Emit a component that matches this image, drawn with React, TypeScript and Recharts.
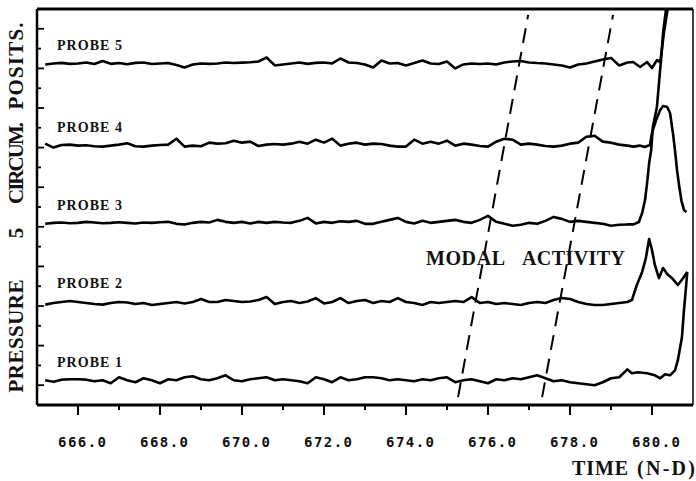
import React from 'react';
import { LineChart, Line, XAxis, YAxis, ReferenceLine } from 'recharts';

// time samples (N-D) for the quiet part of every trace
const TIME = [
  665.2, 665.4, 665.6, 665.8, 666.0, 666.2, 666.4, 666.6, 666.8, 667.0,
  667.2, 667.4, 667.6, 667.8, 668.0, 668.2, 668.4, 668.6, 668.8, 669.0,
  669.2, 669.4, 669.6, 669.8, 670.0, 670.2, 670.4, 670.6, 670.8, 671.0,
  671.2, 671.4, 671.6, 671.8, 672.0, 672.2, 672.4, 672.6, 672.8, 673.0,
  673.2, 673.4, 673.6, 673.8, 674.0, 674.2, 674.4, 674.6, 674.8, 675.0,
  675.2, 675.4, 675.6, 675.8, 676.0, 676.2, 676.4, 676.6, 676.8, 677.0,
  677.2, 677.4, 677.6, 677.8, 678.0, 678.2, 678.4, 678.6, 678.8, 679.0,
  679.2, 679.4,
];

// vertical offset of each probe trace
const OFFSETS = [1.25, 5.15, 9.2, 13.1, 17.25];

// pressure fluctuation around each offset
const PROBE1 = [
  0.0, -0.08, 0.03, 0.05, 0.05, 0.03, -0.05, 0.0, -0.15, 0.15,
  0.0, -0.1, 0.1, 0.0, -0.15, 0.05, 0.0, 0.15, 0.2, 0.05,
  0.0, 0.1, 0.25, 0.0, -0.05, 0.05, 0.1, 0.15, 0.0, 0.05,
  0.0, -0.05, -0.15, 0.15, 0.05, -0.1, 0.15, 0.0, 0.05, 0.15,
  0.15, 0.1, 0.0, 0.05, 0.0, -0.05, 0.05, 0.0, 0.1, 0.15,
  -0.1, 0.0, 0.05, -0.05, -0.15, 0.05, 0.0, 0.1, 0.05, 0.15,
  0.25, 0.1, -0.05, 0.0, -0.1, -0.15, -0.2, -0.25, -0.1, 0.1,
  0.15, 0.55,
];
const PROBE2 = [
  -0.08, 0.0, 0.05, 0.1, 0.05, 0.0, -0.05, -0.08, 0.0, 0.05,
  0.03, -0.05, 0.0, -0.1, -0.05, 0.0, 0.05, -0.02, 0.05, 0.2,
  0.05, 0.05, 0.15, 0.1, 0.05, 0.08, 0.15, 0.3, -0.05, 0.05,
  0.1, 0.0, 0.08, 0.25, -0.02, 0.05, 0.25, 0.0, 0.1, 0.15,
  0.0, 0.1, 0.05, 0.25, 0.05, 0.0, -0.1, 0.05, 0.0, 0.05,
  0.1, 0.05, 0.3, 0.0, 0.05, -0.05, 0.0, -0.05, -0.1, 0.0,
  0.05, 0.0, 0.15, 0.25, 0.2, 0.05, -0.05, -0.1, -0.1, -0.05,
  0.0, 0.05,
];
const PROBE3 = [
  -0.05, 0.0, 0.02, -0.02, 0.0, 0.05, 0.02, -0.02, 0.0, 0.03,
  0.0, -0.03, 0.02, 0.0, 0.03, 0.05, -0.05, -0.08, 0.0, 0.05,
  0.02, 0.15, 0.05, 0.0, 0.05, -0.03, 0.05, 0.0, 0.05, 0.02,
  0.0, 0.1, 0.25, -0.03, 0.05, 0.0, 0.08, 0.05, 0.1, -0.05,
  -0.05, 0.05, 0.15, 0.25, 0.05, -0.03, 0.1, 0.0, 0.05, 0.1,
  0.15, 0.05, 0.0, 0.15, 0.35, 0.05, -0.05, -0.15, -0.1, 0.0,
  -0.05, 0.1, 0.3, 0.2, 0.05, 0.1, 0.05, 0.0, -0.05, -0.15,
  -0.1, -0.08,
];
const PROBE4 = [
  0.1, -0.1, 0.03, 0.05, 0.0, 0.02, -0.03, -0.05, 0.0, 0.05,
  0.12, -0.03, -0.05, 0.0, 0.03, 0.05, 0.35, -0.05, 0.0, -0.03,
  0.15, 0.1, 0.12, 0.25, 0.15, 0.2, -0.02, 0.05, 0.08, 0.05,
  0.1, 0.2, 0.1, 0.3, 0.15, 0.35, 0.0, 0.1, 0.15, 0.05,
  0.1, 0.08, 0.0, -0.05, -0.05, 0.3, 0.1, 0.2, 0.1, 0.25,
  0.0, 0.1, 0.05, -0.02, -0.05, 0.2, 0.35, 0.3, 0.05, 0.1,
  0.05, -0.02, -0.05, 0.0, 0.1, 0.15, 0.45, 0.5, 0.2, 0.15,
  0.05, 0.0,
];
const PROBE5 = [
  -0.05, 0.0, 0.03, -0.02, 0.0, 0.05, -0.03, 0.12, -0.02, 0.02,
  -0.04, 0.03, 0.05, -0.03, 0.0, 0.02, -0.08, -0.2, -0.05, 0.0,
  -0.02, 0.0, 0.05, 0.02, 0.04, 0.06, 0.1, 0.3, -0.1, -0.05,
  0.0, 0.05, -0.02, 0.03, 0.05, 0.0, 0.25, 0.05, 0.02, -0.05,
  -0.2, 0.15, 0.0, 0.02, -0.1, 0.02, 0.15, 0.0, -0.03, 0.1,
  -0.25, -0.05, 0.0, -0.03, 0.0, -0.05, 0.05, 0.1, 0.12, 0.05,
  0.02, 0.0, -0.05, -0.1, -0.2, -0.05, 0.0, 0.1, 0.2, 0.28,
  -0.1, 0.05,
];

// the final burst, sampled finer
const TAIL1_T = [679.51, 679.66, 679.88, 680.07, 680.2, 680.32, 680.44, 680.56, 680.63, 680.73, 680.78, 680.83, 680.86];
const TAIL1_V = [0.35, 0.4, 0.35, 0.25, 0.1, 0.3, 0.25, 0.5, 1.0, 2.17, 3.54, 4.7, 5.47];
const TAIL2_T = [679.51, 679.63, 679.76, 679.85, 679.93, 680.0, 680.07, 680.17, 680.27, 680.37, 680.51, 680.63, 680.76, 680.86];
const TAIL2_V = [0.15, 0.91, 1.57, 2.27, 3.23, 2.68, 1.92, 1.26, 1.77, 1.47, 1.21, 0.91, 1.26, 1.57];
const TAIL3_T = [679.55, 679.68, 679.76, 679.83, 679.88, 679.93, 679.98, 680.02, 680.12, 680.17, 680.22, 680.27, 680.34, 680.44];
const TAIL3_V = [-0.08, 0.04, 0.5, 1.15, 2.01, 3.02, 3.68, 4.84, 5.85, 7.06, 8.22, 9.59, 10.75, 12.3];
const TAIL4_T = [679.55, 679.7, 679.82, 679.95, 680.0, 680.1, 680.2, 680.27, 680.37, 680.44, 680.51, 680.56, 680.61, 680.66, 680.72, 680.78, 680.84];
const TAIL4_V = [-0.05, 0.0, -0.07, 0.03, 0.64, 1.29, 1.8, 2.0, 1.95, 1.65, 0.64, -0.22, -1.23, -2.0, -2.8, -3.25, -3.35];
const TAIL5_T = [679.54, 679.71, 679.88, 680.0, 680.12, 680.2, 680.24, 680.29, 680.34, 680.39, 680.49];
const TAIL5_V = [0.07, -0.18, 0.07, -0.23, 0.17, 0.07, 0.68, 1.54, 2.19, 2.85, 4.25];

// dashed propagation fronts: [t0, y0, t1, y1]
const FRONTS = [
  [675.27, 0.4, 676.98, 19.7],
  [677.32, 0.4, 679.05, 19.7],
];

const X_TICKS = [666, 667, 668, 669, 670, 671, 672, 673, 674, 675, 676, 677, 678, 679, 680];
const Y_TICKS = [0, 1, 2, 3, 4, 5, 6, 7, 8, 9, 10, 11, 12, 13, 14, 15, 16, 17, 18, 19, 20];
const PROBE_LABELS = ['PROBE 1', 'PROBE 2', 'PROBE 3', 'PROBE 4', 'PROBE 5'];

const build = (dev: number[], tt: number[], tv: number[], off: number) => [
  ...TIME.map((t, i) => ({ t, v: off + dev[i] })),
  ...tt.map((t, i) => ({ t, v: off + tv[i] })),
];

const series = [
  build(PROBE1, TAIL1_T, TAIL1_V, OFFSETS[0]),
  build(PROBE2, TAIL2_T, TAIL2_V, OFFSETS[1]),
  build(PROBE3, TAIL3_T, TAIL3_V, OFFSETS[2]),
  build(PROBE4, TAIL4_T, TAIL4_V, OFFSETS[3]),
  build(PROBE5, TAIL5_T, TAIL5_V, OFFSETS[4]),
];

const serif = '"Liberation Serif", "Times New Roman", serif';

const XTick = (props: any) => {
  const { x, y, payload } = props;
  const major = payload.value % 2 === 0;
  return (
    <g>
      <line x1={x} x2={x} y1={y} y2={y + (major ? 10 : 5)} stroke="#000" strokeWidth={2} />
      {major && (
        <text
          x={x + 4}
          y={y + 42}
          textAnchor="middle"
          fontFamily='"DejaVu Sans Mono", monospace'
          fontWeight="bold"
          fontSize={14}
          textLength={48}
          fill="#111"
        >
          {payload.value.toFixed(1)}
        </text>
      )}
    </g>
  );
};

const YTick = (props: any) => {
  const { x, y, payload } = props;
  const len = payload.value % 2 === 1 ? 7 : 4;
  return <line x1={x} x2={x + len} y1={y} y2={y} stroke="#000" strokeWidth={1.8} />;
};

const labelY = [367, 288, 210, 132, 50];

const App = () => {
  return (
    <div style={{ position: 'absolute', left: 0, top: 0, width: 696, height: 481, background: '#fff' }}>
      <LineChart width={696} height={481} margin={{ top: 9, right: 3, bottom: 75, left: 36 }}>
        <XAxis
          dataKey="t"
          type="number"
          domain={[665, 681]}
          ticks={X_TICKS}
          allowDataOverflow
          height={1}
          tickSize={0}
          tickMargin={0}
          tickLine={false}
          tick={XTick}
          axisLine={{ stroke: '#000', strokeWidth: 3 }}
          interval={0}
        />
        <YAxis
          type="number"
          domain={[0, 20]}
          ticks={Y_TICKS}
          allowDataOverflow
          width={1}
          tickSize={0}
          tickMargin={0}
          tickLine={false}
          tick={YTick}
          axisLine={{ stroke: '#000', strokeWidth: 2.5 }}
          interval={0}
        />
        <ReferenceLine y={20} stroke="#000" strokeWidth={3} />
        <ReferenceLine x={681} stroke="#000" strokeWidth={1.5} />
        {FRONTS.map((f, i) => (
          <ReferenceLine
            key={'front' + i}
            segment={[{ x: f[0], y: f[1] }, { x: f[2], y: f[3] }]}
            stroke="#000"
            strokeWidth={2}
            strokeDasharray="15 9"
          />
        ))}
        {series.map((d, i) => (
          <Line
            key={'probe' + i}
            data={d}
            dataKey="v"
            type="linear"
            stroke="#000"
            strokeWidth={2.6}
            strokeLinejoin="round"
            dot={false}
            activeDot={false}
            isAnimationActive={false}
          />
        ))}
      </LineChart>
      <svg width={696} height={481} style={{ position: 'absolute', left: 0, top: 0, pointerEvents: 'none' }}>
        <g fontFamily={serif} fontWeight="bold" fill="#111">
          {PROBE_LABELS.map((l, i) => (
            <text key={l} x={57} y={labelY[i]} fontSize={14} textLength={65}>
              {l}
            </text>
          ))}
          <text x={426} y={265} fontSize={20} textLength={79}>MODAL</text>
          <text x={522} y={265} fontSize={20} textLength={103}>ACTIVITY</text>
          <text x={572} y={475} fontSize={20} textLength={56}>TIME</text>
          <text x={637} y={475} fontSize={20} textLength={58}>(N-D)</text>
          <text x={23} y={336} fontSize={21} textAnchor="middle" textLength={113} transform="rotate(-90 23 336)">PRESSURE</text>
          <text x={23} y={233} fontSize={21} textAnchor="middle" transform="rotate(-90 23 233)">5</text>
          <text x={23} y={163} fontSize={21} textAnchor="middle" textLength={82} transform="rotate(-90 23 163)">CIRCUM.</text>
          <text x={23} y={66} fontSize={21} textAnchor="middle" textLength={87} transform="rotate(-90 23 66)">POSITS.</text>
        </g>
      </svg>
    </div>
  );
};

export default App;
